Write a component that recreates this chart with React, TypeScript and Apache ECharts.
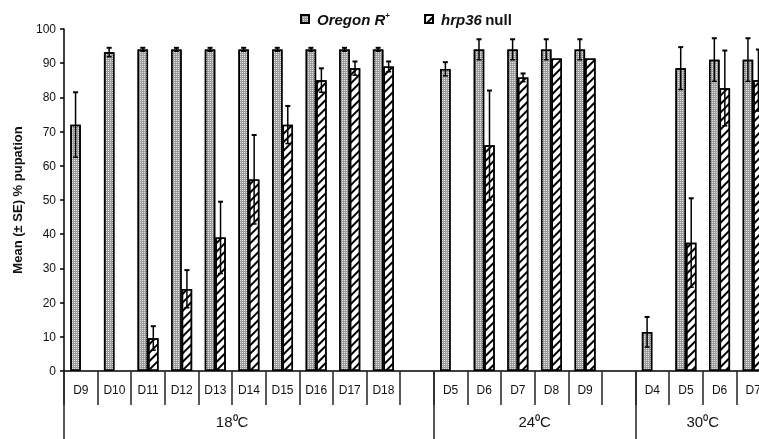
import React, { useEffect, useRef } from "react";
import * as echarts from "echarts";

const categories = ["D9", "D10", "D11", "D12", "D13", "D14", "D15", "D16", "D17", "D18", "", "D5", "D6", "D7", "D8", "D9", "", "D4", "D5", "D6", "D7"];
const oregonMean: (number | null)[] = [72, 93.2, 94, 94, 94, 94, 94, 94, 94, 94, null, 88.3, 94, 94, 94, 94, null, 11.4, 88.5, 91, 91];
const oregonSE: (number | null)[] = [9.5, 1.3, 0.5, 0.5, 0.5, 0.5, 0.5, 0.5, 0.5, 0.5, null, 2, 3, 3, 3, 3, null, 4.4, 6.2, 6.3, 6.3];
const hrpMean: (number | null)[] = [null, null, 9.6, 24, 39, 56, 72, 85, 88.5, 89, null, null, 66, 85.8, 91.4, 91.4, null, null, 37.5, 82.7, 85];
const hrpSE: (number | null)[] = [null, null, 3.5, 5.5, 10.5, 13, 5.5, 3.5, 2, 1.5, null, null, 16, 1.2, 0, 0, null, null, 13, 11, 9];
const groupLabels = ["18⁰C", "24⁰C", "30⁰C"];
const groupLabelPos = [5, 14, 19];
const groupBounds = [0, 11, 17];
const yTicks = { min: 0, max: 100, interval: 10 };

const FONT = "'Liberation Sans', Arial, sans-serif";
const BAR_W = 10.5;

function errData(mean: (number | null)[], se: (number | null)[]) {
  const out: number[][] = [];
  mean.forEach((m, i) => {
    const s = se[i];
    if (m != null && s != null && s > 0) out.push([i, m - s, m + s]);
  });
  return out;
}

function errSeries(name: string, data: number[][], offset: number) {
  return {
    type: "custom",
    name: name + " SE",
    xAxisIndex: 0,
    yAxisIndex: 0,
    z: 5,
    silent: true,
    encode: { x: 0, y: [1, 2] },
    data,
    renderItem: (params: any, api: any) => {
      const idx = api.value(0);
      const lo = api.value(1);
      const hi = api.value(2);
      const x = api.coord([idx, 0])[0] + offset;
      const yLo = api.coord([idx, lo])[1];
      const yHi = api.coord([idx, hi])[1];
      return {
        type: "group",
        children: [
          { type: "line", shape: { x1: x, y1: yLo, x2: x, y2: yHi }, style: { stroke: "#000", lineWidth: 1.5 } },
          { type: "line", shape: { x1: x - 2.5, y1: yHi, x2: x + 2.5, y2: yHi }, style: { stroke: "#000", lineWidth: 2 } },
          { type: "line", shape: { x1: x - 2.5, y1: yLo, x2: x + 2.5, y2: yLo }, style: { stroke: "#000", lineWidth: 1.5 } },
        ],
      };
    },
  };
}

export default function App() {
  const ref = useRef<HTMLDivElement>(null);
  useEffect(() => {
    if (!ref.current) return;
    document.body.style.overflow = "hidden";
    const chart = echarts.init(ref.current, null, { renderer: "svg" });
    const stipple = {
      symbol: "rect",
      symbolSize: 1,
      dashArrayX: [1, 1],
      dashArrayY: [1, 1],
      rotation: 0,
      color: "rgba(240,240,240,0.85)",
    };
    const hatch = {
      symbol: "rect",
      symbolSize: 1,
      dashArrayX: [1, 0],
      dashArrayY: [1.5, 3.2],
      rotation: -Math.PI / 4,
      color: "#000",
    };
    chart.setOption({
      animation: false,
      textStyle: { fontFamily: FONT },
      legend: {
        left: 295,
        top: 6,
        icon: "rect",
        itemWidth: 8,
        itemHeight: 8,
        itemGap: 34,
        data: ["Oregon R+", "hrp36 null"],
        formatter: (n: string) => (n === "Oregon R+" ? "{i|Oregon R}{s|+}" : "{i|hrp36} {b|null}"),
        textStyle: {
          padding: [0, 0, 0, 3],
          rich: {
            i: { fontFamily: FONT, fontSize: 15, fontWeight: "bold", fontStyle: "italic", color: "#111" },
            b: { fontFamily: FONT, fontSize: 15, fontWeight: "bold", color: "#111" },
            s: { fontFamily: FONT, fontSize: 8, fontWeight: "bold", color: "#111", verticalAlign: "top", padding: [0, 0, 8, 0] },
          },
        },
      },
      grid: { left: 64, right: 10, top: 29, bottom: 68, containLabel: false },
      xAxis: [
        {
          type: "category",
          data: categories,
          position: "bottom",
          boundaryGap: true,
          axisLine: { show: true, lineStyle: { color: "#000", width: 1.5 } },
          axisTick: { show: true, interval: 0, length: 34, lineStyle: { color: "#222", width: 1.5 } },
          axisLabel: { interval: 0, margin: 13, fontSize: 12, color: "#111", fontFamily: FONT },
          splitLine: { show: false },
        },
        {
          type: "value",
          min: 0,
          max: 21,
          position: "bottom",
          axisLine: { show: false },
          splitLine: { show: false },
          axisTick: { show: true, customValues: groupBounds, length: 68, lineStyle: { color: "#222", width: 1.5 } },
          axisLabel: {
            show: true,
            customValues: groupLabelPos,
            formatter: (v: number) => groupLabels[groupLabelPos.indexOf(v)] ?? "",
            margin: 43,
            fontSize: 15,
            color: "#111",
            fontFamily: FONT,
          },
        },
      ],
      yAxis: {
        type: "value",
        min: yTicks.min,
        max: yTicks.max,
        interval: yTicks.interval,
        name: "Mean (± SE) % pupation",
        nameLocation: "middle",
        nameGap: 40,
        nameTextStyle: { fontSize: 13, fontWeight: "bold", color: "#111", fontFamily: FONT },
        axisLine: { show: true, lineStyle: { color: "#000", width: 1.5 } },
        axisTick: { show: true, length: 4, lineStyle: { color: "#000", width: 1.5 } },
        axisLabel: { margin: 8, fontSize: 12, color: "#111", fontFamily: FONT },
        splitLine: { show: false },
      },
      series: [
        {
          type: "bar",
          name: "Oregon R+",
          data: oregonMean,
          barWidth: BAR_W,
          barGap: "0%",
          itemStyle: { color: "#9c9c9c", borderColor: "#000", borderWidth: 1.5, decal: stipple },
        },
        {
          type: "bar",
          name: "hrp36 null",
          data: hrpMean,
          barWidth: BAR_W,
          barGap: "0%",
          itemStyle: { color: "#fff", borderColor: "#000", borderWidth: 1.5, decal: hatch },
        },
        errSeries("Oregon R+", errData(oregonMean, oregonSE), -BAR_W / 2),
        errSeries("hrp36 null", errData(hrpMean, hrpSE), BAR_W / 2),
      ],
    });
    return () => chart.dispose();
  }, []);
  return <div ref={ref} style={{ position: "fixed", left: 0, top: 0, width: 780, height: 439 }} />;
}
